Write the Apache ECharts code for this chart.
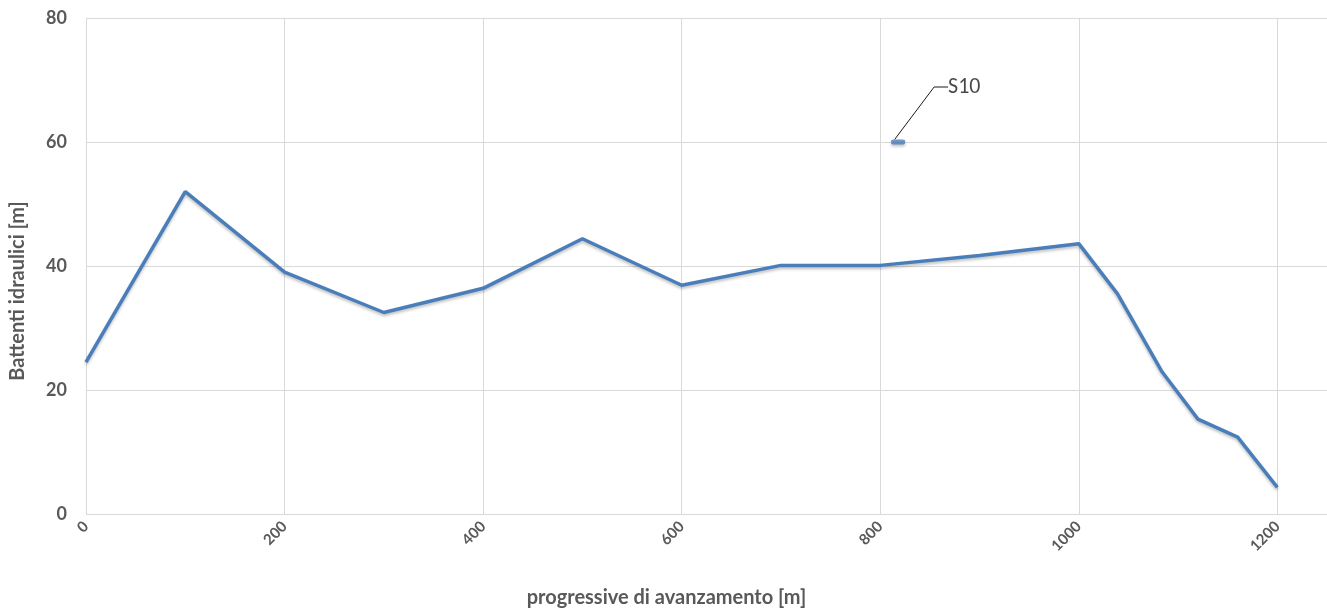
<!DOCTYPE html>
<html>
<head>
<meta charset="utf-8">
<title>Battenti idraulici</title>
<script src="https://cdn.jsdelivr.net/npm/echarts@6/dist/echarts.min.js"></script>
<style>
  html, body { margin: 0; padding: 0; background: #fff; }
  #chart { width: 1327px; height: 613px; }
</style>
</head>
<body>
<div id="chart"></div>
<script>
// Hydraulic head profile along the tunnel chainage
const progressive = [0, 100, 200, 300, 400, 500, 600, 700, 800, 900, 1000, 1039, 1084, 1120, 1160, 1200];
const battenti    = [24.5, 52.0, 39.0, 32.5, 36.4, 44.4, 36.9, 40.1, 40.1, 41.7, 43.6, 35.5, 22.9, 15.3, 12.4, 4.3];

// Isolated measurement point
const s10Name = 'S10';
const s10X = [818];
const s10Y = [60];

const xTicks = [0, 200, 400, 600, 800, 1000, 1200];
const yTicks = [0, 20, 40, 60, 80];

const lineColor = '#4a7ebb';
const textGrey = '#595959';
const gridGrey = '#d9d9d9';
const font = 'Lato, "Open Sans", sans-serif';

const chart = echarts.init(document.getElementById('chart'));

chart.setOption({
  animation: false,
  grid: { left: 86, right: -1, top: 18, bottom: 92, containLabel: false },
  xAxis: {
    type: 'value',
    min: xTicks[0],
    max: 1250,
    interval: 200,
    name: 'progressive di avanzamento [m]',
    nameLocation: 'middle',
    nameGap: 74,
    nameTextStyle: { color: textGrey, fontFamily: font, fontWeight: 'bold', fontSize: 20, padding: [0, 80, 0, 0] },
    axisLine: { show: false },
    axisTick: { show: false },
    axisLabel: {
      rotate: 45,
      margin: 10,
      color: textGrey,
      fontFamily: font,
      fontWeight: 'bold',
      fontSize: 15,
      showMaxLabel: false,
      formatter: v => (xTicks.indexOf(v) >= 0 ? String(v) : '')
    },
    splitLine: { show: true, lineStyle: { color: gridGrey, width: 1 } }
  },
  yAxis: {
    type: 'value',
    min: yTicks[0],
    max: yTicks[yTicks.length - 1],
    interval: 20,
    name: 'Battenti idraulici [m]',
    nameLocation: 'middle',
    nameGap: 58,
    nameTextStyle: { color: textGrey, fontFamily: font, fontWeight: 'bold', fontSize: 20, padding: [0, 0, 0, -50] },
    axisLine: { show: false },
    axisTick: { show: false },
    axisLabel: {
      margin: 19,
      color: textGrey,
      fontFamily: font,
      fontWeight: 'bold',
      fontSize: 18
    },
    splitLine: { show: true, lineStyle: { color: gridGrey, width: 1 } }
  },
  series: [
    {
      type: 'line',
      data: progressive.map((x, i) => [x, battenti[i]]),
      showSymbol: false,
      symbol: 'none',
      lineStyle: {
        color: lineColor,
        width: 3.5,
        shadowColor: 'rgba(0,0,0,0.25)',
        shadowBlur: 3,
        shadowOffsetY: 2
      },
      z: 3
    },
    {
      type: 'scatter',
      data: s10X.map((x, i) => [x, s10Y[i]]),
      symbol: 'roundRect',
      symbolSize: [14, 5],
      itemStyle: {
        color: lineColor,
        shadowColor: 'rgba(0,0,0,0.3)',
        shadowBlur: 3,
        shadowOffsetY: 2
      },
      label: {
        show: true,
        formatter: s10Name,
        position: 'right',
        color: '#1a1a1a',
        fontFamily: 'Carlito, Lato, "Open Sans", sans-serif',
        fontSize: 22
      },
      labelLayout: { dx: 38, dy: -55 },
      labelLine: { show: true, length2: 14, lineStyle: { color: '#1a1a1a', width: 1 } },
      z: 4
    }
  ]
});
</script>
</body>
</html>
